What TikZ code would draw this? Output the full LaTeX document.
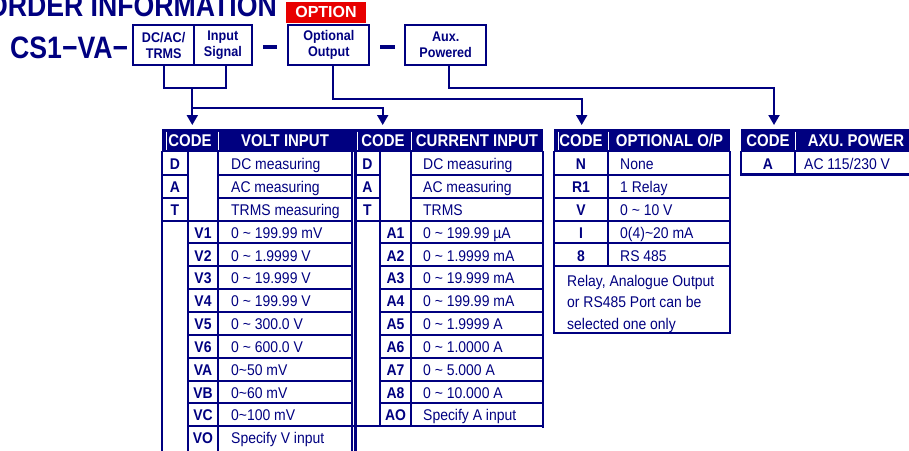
\documentclass[tikz,border=0pt]{standalone}
\usepackage{fontspec}
\setmainfont{Liberation Sans}
\newfontfamily\narf[FakeStretch=0.9]{Liberation Sans}
\newfontfamily\hdrf[FakeStretch=0.88]{Liberation Sans}
\newfontfamily\bigf[FakeStretch=0.86]{Liberation Sans}
\usetikzlibrary{arrows.meta}
\definecolor{navy}{RGB}{0,0,128}
\definecolor{optred}{RGB}{232,0,0}
\newcommand\tlde{\textasciitilde}
\begin{document}
\begin{tikzpicture}[x=1pt,y=-1pt,
  hd/.style={text=white,font=\hdrf\bfseries\fontsize{17}{20}\selectfont,inner sep=0pt,anchor=base},
  ct/.style={text=navy,font=\narf\fontsize{15.5}{18}\selectfont,inner sep=0pt,anchor=base west},
  cc/.style={text=navy,font=\narf\bfseries\fontsize{15.5}{18}\selectfont,inner sep=0pt,anchor=base},
  tl/.style={draw=navy,line width=2pt,line cap=rect},
  bl/.style={draw=navy,line width=2.8pt,line cap=rect},
  wl/.style={draw=white,line width=1pt},
  conn/.style={draw=navy,line width=2pt},
  arr/.style={conn,-{Triangle[width=11pt,length=10pt]}},
  topbox/.style={draw=navy,line width=2.3pt,minimum height=39.7pt,inner sep=0pt,align=center,text=navy,font=\narf\bfseries\fontsize{14}{16}\selectfont},
  dashbar/.style={fill=navy,minimum width=14.6pt,minimum height=4.3pt,inner sep=0pt}
]
\useasboundingbox (0,0) rectangle (909,450);

% ---------- title area ----------
\node[text=navy,font=\bigf\bfseries\fontsize{31}{34}\selectfont,inner sep=0pt,anchor=base east] (title) at (277,16) {ORDER INFORMATION};
\node[fill=optred,text=white,font=\bfseries\fontsize{16}{18}\selectfont,minimum width=79.7pt,minimum height=21pt,inner sep=0pt] (opt) at (326,12.2) {OPTION};
\node[text=navy,font=\bigf\bfseries\fontsize{31}{34}\selectfont,inner sep=0pt,anchor=base west] (model) at (10,58.3) {CS1−VA−};

\node[topbox,minimum width=60.7pt] (b1a) at (163.65,45.15) {DC/AC/\\TRMS};
\node[topbox,minimum width=57.7pt] (b1b) at (222.85,45.15) {Input\\Signal};
\node[dashbar] (d1) at (270,46.7) {};
\node[topbox,minimum width=81pt] (b2) at (328.8,45.15) {Optional\\Output};
\node[dashbar] (d2) at (387.5,46.7) {};
\node[topbox,minimum width=80.7pt] (b3) at (445.65,45.15) {Aux.\\Powered};

% ---------- connectors ----------
\coordinate (j1) at (192.3,88.3);
\coordinate (j2) at (192.3,107.7);
\coordinate (tipV) at (192.3,125);
\coordinate (tipC) at (382.7,125);
\coordinate (k2) at (581.7,99.3);
\coordinate (tipO) at (581.7,125);
\coordinate (k3) at (774,88.3);
\coordinate (tipA) at (774,125);
\draw[conn] (b1a.south) |- (j1) -| ([xshift=2.8pt]b1b.south);
\draw[arr] (j1) -- (tipV);
\draw[arr] (j2) -| (tipC);
\draw[arr] ([xshift=4.5pt]b2.south) |- (k2) -- (tipO);
\draw[arr] ([xshift=3.3pt]b3.south) |- (k3) -- (tipA);

% ---------- headers ----------
\fill[navy] (162,129) rectangle (354,152);
\fill[navy] (354,129) rectangle (543,152);
\fill[navy] (554,129) rectangle (730,152);
\fill[navy] (741,129) rectangle (909,152);
\draw[wl] (166.5,131.5) -- (166.5,150) (218,131.5) -- (218,150)
          (357.5,131.5) -- (357.5,150) (411,131.5) -- (411,150)
          (558,131.5) -- (558,150) (608,131.5) -- (608,150)
          (795,131.5) -- (795,150);
\node[hd] (vhc) at (190,146.8) {CODE};
\node[hd] (vht) at (285,146.8) {VOLT INPUT};
\node[hd] (chc) at (383,146.8) {CODE};
\node[hd] (cht) at (477,146.8) {CURRENT INPUT};
\node[hd] (ohc) at (581,146.8) {CODE};
\node[hd] (oht) at (669.5,146.8) {OPTIONAL O/P};
\node[hd] (ahc) at (768,146.8) {CODE};
\node[hd] (aht) at (856,146.8) {AXU. POWER};

% ---------- volt table lines ----------
\draw[tl] (188,152) -- (188,220.55);
\draw[tl] (162,174.85) -- (188,174.85) (218,174.85) -- (352,174.85);
\draw[tl] (162,197.7) -- (188,197.7) (218,197.7) -- (352,197.7);
\draw[tl] (162,220.55) -- (352,220.55);
\draw[tl] (218,152) -- (218,450);
\draw[tl] (188,220.55) -- (188,450);
\foreach \i in {4,...,12} \draw[tl] (188,{152+22.85*\i}) -- (352,{152+22.85*\i});
\draw[bl] (162,152) -- (162,450);
\draw[bl] (352,152) -- (352,450);

% ---------- current table lines ----------
\draw[tl] (380,152) -- (380,220.55);
\draw[tl] (355,174.85) -- (380,174.85) (411,174.85) -- (543,174.85);
\draw[tl] (355,197.7) -- (380,197.7) (411,197.7) -- (543,197.7);
\draw[tl] (355,220.55) -- (543,220.55);
\draw[tl] (411,152) -- (411,426.2);
\draw[tl] (380,220.55) -- (380,426.2);
\foreach \i in {4,...,11} \draw[tl] (380,{152+22.85*\i}) -- (543,{152+22.85*\i});
\draw[tl] (352,426.2) -- (543,426.2);
\draw[bl] (355.5,152) -- (355.5,450);
\draw[bl] (543,152) -- (543,426.2);

% ---------- optional table lines ----------
\foreach \i in {1,...,5} \draw[tl] (554,{152+22.85*\i}) -- (730,{152+22.85*\i});
\draw[tl] (608,152) -- (608,266.25);
\draw[bl] (554,152) -- (554,333) -- (730,333) -- (730,152);

% ---------- aux table lines ----------
\draw[bl] (741,152) -- (741,174.85) -- (909,174.85);
\draw[tl] (795,152) -- (795,174.85);

% ---------- volt table text ----------
\foreach \c/\t [count=\i from 0] in {D/DC measuring, A/AC measuring, T/TRMS measuring}{
  \node[cc] (vc\i) at (175,{152+22.85*(\i+0.5)+6.2}) {\c};
  \node[ct] (vt\i) at (231,{152+22.85*(\i+0.5)+6.2}) {\t};
}
\foreach \c/\t [count=\i from 3] in {V1/{0 \tlde{} 199.99 mV}, V2/{0 \tlde{} 1.9999 V}, V3/{0 \tlde{} 19.999 V}, V4/{0 \tlde{} 199.99 V}, V5/{0 \tlde{} 300.0 V}, V6/{0 \tlde{} 600.0 V}, VA/{0\tlde{}50 mV}, VB/{0\tlde{}60 mV}, VC/{0\tlde{}100 mV}, VO/{Specify V input}}{
  \node[cc] (vc\i) at (203,{152+22.85*(\i+0.5)+6.2}) {\c};
  \node[ct] (vt\i) at (231,{152+22.85*(\i+0.5)+6.2}) {\t};
}

% ---------- current table text ----------
\foreach \c/\t [count=\i from 0] in {D/DC measuring, A/AC measuring, T/TRMS}{
  \node[cc] (cc\i) at (367.5,{152+22.85*(\i+0.5)+6.2}) {\c};
  \node[ct] (ct\i) at (423,{152+22.85*(\i+0.5)+6.2}) {\t};
}
\foreach \c/\t [count=\i from 3] in {A1/{0 \tlde{} 199.99 µA}, A2/{0 \tlde{} 1.9999 mA}, A3/{0 \tlde{} 19.999 mA}, A4/{0 \tlde{} 199.99 mA}, A5/{0 \tlde{} 1.9999 A}, A6/{0 \tlde{} 1.0000 A}, A7/{0 \tlde{} 5.000 A}, A8/{0 \tlde{} 10.000 A}, AO/{Specify A input}}{
  \node[cc] (cc\i) at (395.5,{152+22.85*(\i+0.5)+6.2}) {\c};
  \node[ct] (ct\i) at (423,{152+22.85*(\i+0.5)+6.2}) {\t};
}

% ---------- optional table text ----------
\foreach \c/\t [count=\i from 0] in {N/None, R1/1 Relay, V/{0 \tlde{} 10 V}, I/{0(4)\tlde{}20 mA}, 8/RS 485}{
  \node[cc] (oc\i) at (581,{152+22.85*(\i+0.5)+6.2}) {\c};
  \node[ct] (ot\i) at (620,{152+22.85*(\i+0.5)+6.2}) {\t};
}
\node[ct] (note1) at (567,286) {Relay, Analogue Output};
\node[ct] (note2) at (567,307.5) {or RS485 Port can be};
\node[ct] (note3) at (567,329) {selected one only};

% ---------- aux table text ----------
\node[cc] (ac0) at (768,{163.4+6.2}) {A};
\node[ct] (at0) at (804,{163.4+6.2}) {AC 115/230 V};
\end{tikzpicture}
\end{document}
